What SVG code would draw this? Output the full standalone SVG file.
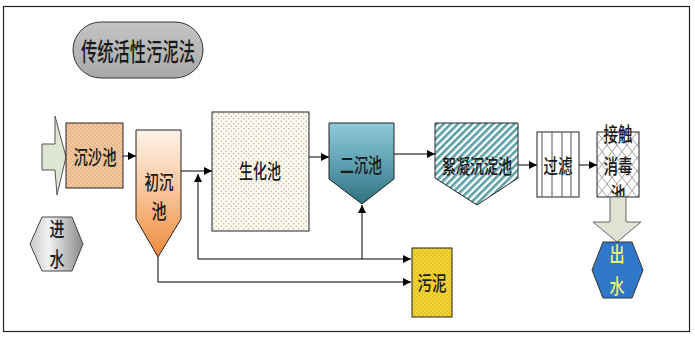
<svg xmlns="http://www.w3.org/2000/svg" width="695" height="338" viewBox="0 0 695 338">
<defs>
<style>
.t{font-family:"Noto Sans CJK SC","Noto Sans CJK TC",sans-serif;font-size:20px;font-weight:500;fill:#1a1a1a;text-anchor:middle;dominant-baseline:central}
.box{stroke:#222;stroke-width:1}
.ln{fill:none;stroke:#000;stroke-width:1}
</style>
<marker id="ah" viewBox="0 0 10 10" refX="10" refY="5" markerWidth="8" markerHeight="8" markerUnits="userSpaceOnUse" orient="auto">
<path d="M0,0 L10,5 L0,10 Z" fill="#000"/>
</marker>
<pattern id="dotSand" width="4" height="4" patternUnits="userSpaceOnUse">
<rect width="4" height="4" fill="#f4c89f"/>
<circle cx="1" cy="1" r="0.7" fill="#d49c70"/>
<circle cx="3" cy="3" r="0.7" fill="#d49c70"/>
</pattern>
<pattern id="dotBio" width="5" height="5" patternUnits="userSpaceOnUse">
<rect width="5" height="5" fill="#fcf9ef"/>
<circle cx="1.2" cy="1.2" r="0.7" fill="#b5ae9a"/>
<circle cx="3.7" cy="3.7" r="0.7" fill="#b5ae9a"/>
</pattern>
<pattern id="dotSludge" width="4" height="4" patternUnits="userSpaceOnUse">
<rect width="4" height="4" fill="#f4d632"/>
<circle cx="1" cy="1" r="0.7" fill="#c8a818"/>
<circle cx="3" cy="3" r="0.7" fill="#c8a818"/>
</pattern>
<pattern id="stripe" width="5" height="5" patternUnits="userSpaceOnUse" patternTransform="rotate(45)">
<rect width="5" height="5" fill="#ffffff"/>
<rect width="2.6" height="5" fill="#5a9ea6"/>
</pattern>
<pattern id="hatch" width="10" height="13" patternUnits="userSpaceOnUse" x="597" y="132">
<rect width="10" height="13" fill="#ffffff"/>
<path d="M0,0 L10,13 M10,0 L0,13" stroke="#8a8a8a" stroke-width="0.8"/>
</pattern>
<linearGradient id="gOrange" x1="0" y1="0" x2="0" y2="1">
<stop offset="0" stop-color="#fdf3ea"/>
<stop offset="0.45" stop-color="#f8c9a0"/>
<stop offset="1" stop-color="#f0893a"/>
</linearGradient>
<linearGradient id="gTeal" x1="0" y1="0" x2="0" y2="1">
<stop offset="0" stop-color="#8fcad8"/>
<stop offset="0.5" stop-color="#5fa1b3"/>
<stop offset="1" stop-color="#2f6f80"/>
</linearGradient>
<linearGradient id="gGray" x1="0" y1="0" x2="1" y2="0">
<stop offset="0" stop-color="#c8c8c8"/>
<stop offset="0.35" stop-color="#f2f2f2"/>
<stop offset="1" stop-color="#8a8a8a"/>
</linearGradient>
<linearGradient id="gTitle" x1="0" y1="0" x2="0" y2="1">
<stop offset="0" stop-color="#c4c4c4"/>
<stop offset="1" stop-color="#a9a9a9"/>
</linearGradient>
</defs>
<rect x="0" y="0" width="695" height="338" fill="#ffffff"/>
<rect x="3.5" y="6.5" width="686" height="325" fill="none" stroke="#222" stroke-width="1.2"/>

<g id="title">
<rect x="73" y="22" width="130" height="56" rx="28" ry="28" fill="url(#gTitle)" stroke="#333" stroke-width="1"/>
<text class="t" x="138" y="50" style="font-size:25px" textLength="114" lengthAdjust="spacingAndGlyphs">传统活性污泥法</text>
</g>

<g id="connectors">
<path class="ln" d="M123,156 H136" marker-end="url(#ah)"/>
<path class="ln" d="M181,171 H212" marker-end="url(#ah)"/>
<path class="ln" d="M309,157 H329" marker-end="url(#ah)"/>
<path class="ln" d="M394,154 H435" marker-end="url(#ah)"/>
<path class="ln" d="M518,165 H537" marker-end="url(#ah)"/>
<path class="ln" d="M579,165 H597" marker-end="url(#ah)"/>
<path class="ln" d="M362,259 V205" marker-end="url(#ah)"/>
<path class="ln" d="M362,259 H411" marker-end="url(#ah)"/>
<path class="ln" d="M362,259 H198 V174" marker-end="url(#ah)"/>
<path class="ln" d="M158,257 V282 H411" marker-end="url(#ah)"/>
</g>

<g id="inlet-arrow">
<polygon points="42,144 55,144 55,116 66,157 57,195 55,170 42,170" fill="#dfe5d3" stroke="#555" stroke-width="1"/>
</g>

<g id="grit-chamber">
<rect class="box" x="66" y="123" width="57" height="65" fill="url(#dotSand)"/>
<text class="t" x="95" y="156" textLength="43" lengthAdjust="spacingAndGlyphs">沉沙池</text>
</g>

<g id="primary-clarifier">
<polygon class="box" points="136,130 181,130 181,219 158,257 136,219" fill="url(#gOrange)"/>
<text class="t" x="159" y="181" textLength="29" lengthAdjust="spacingAndGlyphs">初沉</text>
<text class="t" x="159" y="210" textLength="15" lengthAdjust="spacingAndGlyphs">池</text>
</g>

<g id="inflow">
<polygon points="42,217 72,217 83,244 72,271 42,271 30,244" fill="url(#gGray)" stroke="#444" stroke-width="1"/>
<text class="t" x="57" y="228" textLength="15" lengthAdjust="spacingAndGlyphs">进</text>
<text class="t" x="57" y="258" textLength="15" lengthAdjust="spacingAndGlyphs">水</text>
</g>

<g id="bio-tank">
<rect class="box" x="212" y="112" width="97" height="119" fill="url(#dotBio)"/>
<text class="t" x="260" y="170" textLength="42" lengthAdjust="spacingAndGlyphs">生化池</text>
</g>

<g id="secondary-clarifier">
<polygon class="box" points="329,123 394,123 394,179 362,204 329,179" fill="url(#gTeal)"/>
<text class="t" x="361" y="164" textLength="42" lengthAdjust="spacingAndGlyphs">二沉池</text>
</g>

<g id="sludge">
<rect class="box" x="412" y="248" width="40" height="69" fill="url(#dotSludge)"/>
<text class="t" x="432" y="282" textLength="29" lengthAdjust="spacingAndGlyphs">污泥</text>
</g>

<g id="coagulation-tank">
<polygon class="box" points="435,123 518,123 518,178 477,205 435,178" fill="url(#stripe)"/>
<text class="t" x="477" y="165" textLength="70" lengthAdjust="spacingAndGlyphs">絮凝沉淀池</text>
</g>

<g id="filter">
<rect class="box" x="537" y="132" width="42" height="65" fill="#ffffff"/>
<path d="M542,132 V197 M552,132 V197 M562,132 V197 M571,132 V197" stroke="#555" stroke-width="1"/>
<text class="t" x="558" y="165" textLength="29" lengthAdjust="spacingAndGlyphs">过滤</text>
</g>

<g id="disinfection-tank">
<rect class="box" x="597" y="132" width="42" height="65" fill="url(#hatch)"/>
<text class="t" x="618" y="133" textLength="29" lengthAdjust="spacingAndGlyphs">接触</text>
<text class="t" x="618" y="165" textLength="29" lengthAdjust="spacingAndGlyphs">消毒</text>
<text class="t" x="618" y="193" textLength="15" lengthAdjust="spacingAndGlyphs">池</text>
</g>

<g id="outlet-arrow">
<polygon points="610,197 626,197 626,222 641,222 617,242 593,222 610,222" fill="#dfe3d3" stroke="#666" stroke-width="1"/>
</g>

<g id="outflow">
<polygon points="603,242 632,242 643,270 632,298 603,298 592,270" fill="#2f78c9" stroke="#333" stroke-width="1"/>
<text class="t" x="617" y="253" style="fill:#f2f27a" textLength="15" lengthAdjust="spacingAndGlyphs">出</text>
<text class="t" x="617" y="285" style="fill:#f2f27a" textLength="15" lengthAdjust="spacingAndGlyphs">水</text>
</g>
</svg>
